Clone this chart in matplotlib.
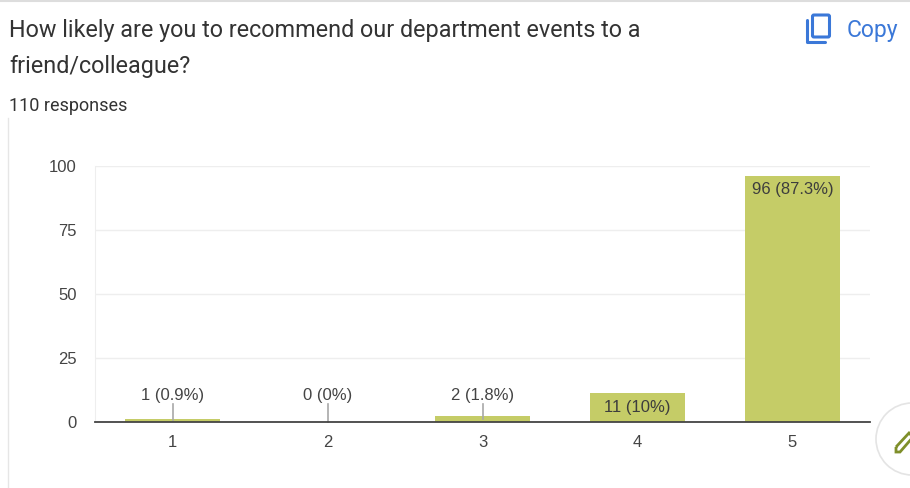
"""Survey response bar chart: likelihood to recommend department events."""
import numpy as np, matplotlib; matplotlib.use("Agg")
import matplotlib.pyplot as plt
from matplotlib.patches import Circle, FancyBboxPatch, Polygon
from matplotlib.lines import Line2D

plt.rcParams.update({"font.family": ["Roboto", "DejaVu Sans"]})

categories = ["1", "2", "3", "4", "5"]
counts = [1, 0, 2, 11, 96]
labels = ["1 (0.9%)", "0 (0%)", "2 (1.8%)", "11 (10%)", "96 (87.3%)"]
yticks = [0, 25, 50, 75, 100]

W, H = 910, 488
CHART_FONT = ["Liberation Sans", "DejaVu Sans"]
fig = plt.figure(figsize=(W / 100, H / 100), dpi=100, facecolor="white")
fx = lambda p: p / W
fy = lambda p: 1 - p / H

# card edge and top strip
fig.add_artist(Line2D([fx(8), fx(8)], [0, fy(118)], color="#e6e6e6", linewidth=1))
fig.add_artist(Line2D([0, 1], [fy(0.5), fy(0.5)], color="#dddddd", linewidth=1.5))

ax = fig.add_axes([fx(95), fy(421.5), fx(775), 255.5 / H])
x = np.arange(len(categories))
ax.bar(x, counts, width=0.615, color="#c5cc67", zorder=3)
ax.set_xlim(-0.5, 4.5)
ax.set_ylim(0, 100)
ax.set_xticks(x, categories)
ax.set_yticks(yticks)
ax.tick_params(axis="both", length=0, labelsize=12, labelcolor="#444444")
ax.tick_params(axis="x", pad=10)
ax.tick_params(axis="y", pad=13)
for t in ax.get_xticklabels() + ax.get_yticklabels():
    t.set_family(CHART_FONT)
ax.grid(axis="y", color="#eeeeee", linewidth=1, zorder=0)
for s in ["top", "right"]:
    ax.spines[s].set_visible(False)
ax.spines["left"].set_color("#eeeeee")
ax.spines["bottom"].set_color("#444444")
ax.spines["bottom"].set_linewidth(1.3)
ax.spines["bottom"].set_zorder(5)

# small bars get the label above with a leader line, big ones inside
for i, (n, lab) in enumerate(zip(counts, labels)):
    if n < 5:
        ax.plot([i, i], [n / 2, 7], color="#a8a8a8", linewidth=1.2, zorder=4, clip_on=False)
        ax.annotate(lab, (i, 7), xytext=(0, 0.5), textcoords="offset points", ha="center",
                    va="bottom", fontsize=12, color="#444444", family=CHART_FONT)
    else:
        ax.annotate(lab, (i, n), xytext=(0, -4.5), textcoords="offset points", ha="center",
                    va="top", fontsize=12, color="#3d3d3d", zorder=6, family=CHART_FONT)

# header text
fig.text(fx(9), fy(30), "How likely are you to recommend our department events to a",
         fontsize=16.8, color="#333333", va="center", ha="left")
fig.text(fx(9), fy(66), "friend/colleague?", fontsize=16.8, color="#333333", va="center", ha="left")
fig.text(fx(9), fy(106), "110 responses", fontsize=13, color="#333333", va="center", ha="left")
fig.text(fx(847), fy(30), "Copy", fontsize=16.5, color="#3b78d8", va="center", ha="left")

# page overlay in pixel coordinates: copy icon and edit button
ov = fig.add_axes([0, 0, 1, 1], facecolor="none")
ov.set_xlim(0, W); ov.set_ylim(H, 0); ov.axis("off")
blue = "#3b78d8"
ov.add_patch(FancyBboxPatch((812.5, 15), 17, 22, boxstyle="round,pad=0,rounding_size=1.5",
                            fill=False, edgecolor=blue, linewidth=2.2))
ov.plot([807, 807, 825], [20, 41.5, 41.5], color=blue, linewidth=2.2, solid_capstyle="round")
ov.add_patch(Circle((912, 439), 36, facecolor="white", edgecolor="#e4e4e4", linewidth=1.2))
ov.add_patch(Polygon([[896, 447], [909, 433], [913, 437], [900, 452], [896, 452]], closed=True,
                     fill=False, edgecolor="#7f8f2a", linewidth=2))

fig.savefig("out.png", dpi=100)
